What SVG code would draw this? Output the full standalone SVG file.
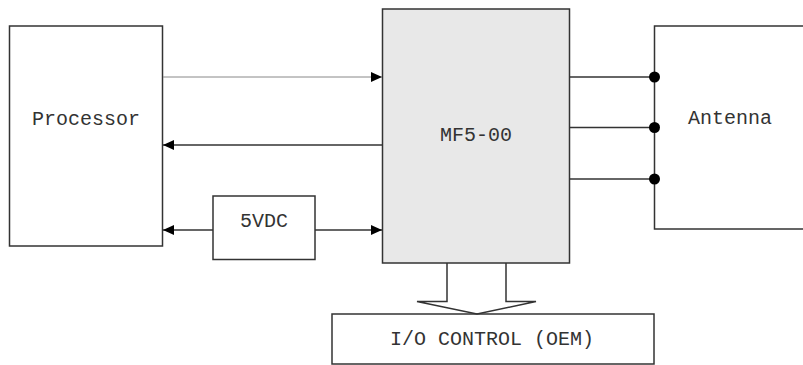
<svg xmlns="http://www.w3.org/2000/svg" width="803" height="365" viewBox="0 0 803 365">
<style>
.box{fill:#ffffff;stroke:#333333;stroke-width:1.5}
.mf{fill:#e8e8e8;stroke:#333333;stroke-width:1.5}
.lbl{font-family:"Liberation Mono","Courier New",monospace;font-size:20px;fill:#333333;text-anchor:middle}
.ln{stroke:#333333;stroke-width:1.5;fill:none}
.thin{stroke:#888888;stroke-width:1;fill:none}
.dot{fill:#000000}
</style>
<defs>
<marker id="ah" markerUnits="userSpaceOnUse" markerWidth="11" markerHeight="10" refX="11" refY="5" orient="auto" viewBox="0 0 11 10">
<path d="M0,0 L11,5 L0,10 Z" fill="#000000"/>
</marker>
</defs>
<g id="processor">
<rect class="box" x="9.5" y="26" width="153" height="220"/>
<text class="lbl" x="86" y="124.5">Processor</text>
</g>
<g id="mf5-00">
<rect class="mf" x="382.5" y="9" width="187" height="254"/>
<text class="lbl" x="476" y="141">MF5-00</text>
</g>
<g id="antenna">
<rect class="box" x="654.5" y="26" width="160" height="203"/>
<text class="lbl" x="730" y="124">Antenna</text>
</g>
<g id="vdc">
<rect class="box" x="213" y="196" width="102" height="63.5"/>
<text class="lbl" x="264" y="227">5VDC</text>
</g>
<g id="io-control">
<rect class="box" x="332" y="314" width="322" height="50"/>
<text class="lbl" x="492" y="345">I/O CONTROL (OEM)</text>
</g>
<g id="connectors">
<line class="thin" x1="163" y1="77" x2="382" y2="77" marker-end="url(#ah)"/>
<line class="ln" x1="382" y1="145" x2="163" y2="145" marker-end="url(#ah)"/>
<line class="ln" x1="213" y1="230" x2="163" y2="230" marker-end="url(#ah)"/>
<line class="ln" x1="315" y1="230" x2="382" y2="230" marker-end="url(#ah)"/>
<line class="ln" x1="569.5" y1="77" x2="654.5" y2="77"/>
<line class="ln" x1="569.5" y1="127.5" x2="654.5" y2="127.5"/>
<line class="ln" x1="569.5" y1="179" x2="654.5" y2="179"/>
<circle class="dot" cx="654.5" cy="77" r="5.5"/>
<circle class="dot" cx="654.5" cy="127.5" r="5.5"/>
<circle class="dot" cx="654.5" cy="179" r="5.5"/>
<path class="ln" d="M447,263 L447,301.5 L417,301.5 L477,314 L536,301.5 L506,301.5 L506,263" stroke-width="1.2"/>
</g>
</svg>
